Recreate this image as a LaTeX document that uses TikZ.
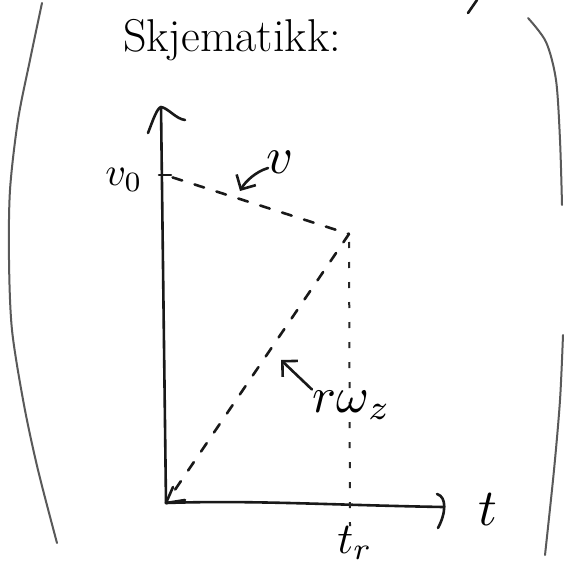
\documentclass[tikz,border=0pt]{standalone}
\usetikzlibrary{arrows.meta}
\begin{document}
\begin{tikzpicture}[x=1pt,y=-1pt,
  pen/.style={line width=2.6pt,black!90,line cap=round,line join=round},
  dashline/.style={line width=2.6pt,black!90,line cap=round,dash pattern=on 10pt off 13pt},
  dotline/.style={line width=2pt,black!85,dash pattern=on 6pt off 14pt},
  paren/.style={line width=2pt,black!65,line cap=round},
  lbl/.style={inner sep=0pt,scale=4},
  barb/.style={-{Straight Barb[length=11pt,width=22pt,line width=2.6pt]}}]
\useasboundingbox (0,0) rectangle (563,569);
\fill[white] (0,0) rectangle (563,569);

% key points
\coordinate (O) at (166,503);
\coordinate (Ytop) at (161,107);
\coordinate (Xend) at (443,507);
\coordinate (V0) at (165,175);
\coordinate (P) at (349,234);
\coordinate (TrLow) at (350,526);
\coordinate (VTip) at (240,191);
\coordinate (RWTip) at (281,360);

% axes
\draw[pen] (O) -- (Ytop);
\draw[pen] (148,133) .. controls (153,120) and (157,108) .. (Ytop) .. controls (168,108) and (176,119) .. (185,120);
\draw[pen] (O) .. controls (250,500) and (330,505) .. (Xend);
\draw[pen] (437,494) .. controls (447,497) and (446,513) .. (438,528);
\draw[pen] (159,175) -- (171,175);

% dashed curve
\draw[dashline, shorten <=8pt] (V0) -- (P);
\draw[dashline, shorten >=6pt] (P) -- (O);
\draw[pen] (173,487) -- (O) -- (185,500);
\draw[dotline, shorten <=8pt] (P) -- (TrLow);

% labels
\node[lbl] (lv0) at (124,180) {$v_0$};
\node[lbl,scale=1.3] (lv) at (280,162) {$v$};
\node[lbl,scale=1.25] (lrw) at (352,405) {$r\omega_z$};
\node[lbl,scale=1.3] (lt) at (488,510) {$t$};
\node[lbl,scale=1.1] (ltr) at (355,543) {$t_r$};
\node[inner sep=0pt,font=\fontsize{46}{50}\selectfont] (title) at (232,40) {Skjematikk:};

% label arrows
\draw[pen,barb] (268,168) .. controls (255,172) and (245,182) .. (VTip);
\draw[pen,barb] (lrw.north west) -- (RWTip);

% brackets
\draw[paren] plot[smooth] coordinates {(42,3) (30,60) (18,120) (10,190) (9,260) (12,330) (24,405) (38,470) (57,543)};
\draw[paren] plot[smooth] coordinates {(528,18) (546,42) (556,80) (560,140) (562,205)};
\draw[paren] plot[smooth] coordinates {(563,335) (560,400) (554,470) (545,555)};
\draw[pen] (468,13) -- (477,0);
\end{tikzpicture}
\end{document}
